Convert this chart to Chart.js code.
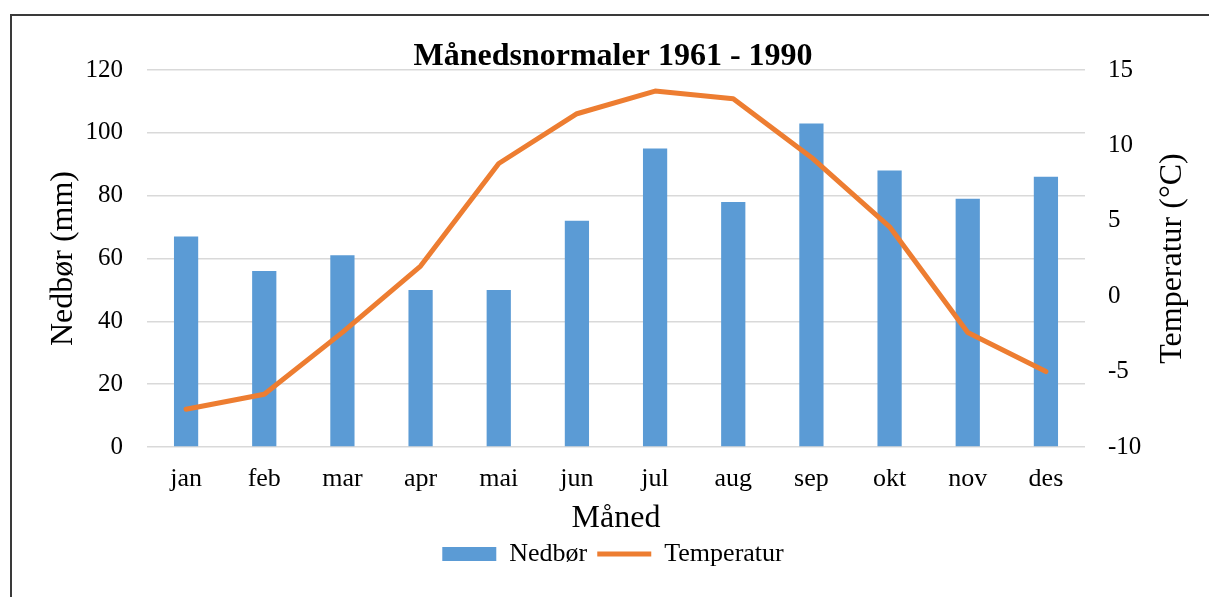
<!DOCTYPE html>
<html>
<head>
<meta charset="utf-8">
<script src="https://cdn.jsdelivr.net/npm/chart.js@4/dist/chart.umd.min.js"></script>
<style>
  body { margin: 0; background: #fff; }
  #frame {
    position: absolute; left: 10px; top: 14px;
    width: 1300px; height: 700px;
    border: 2px solid #3a3a3a;
  }
  #wrap { position: absolute; left: 0; top: 0; width: 1209px; height: 597px; }
</style>
</head>
<body>
<div id="frame"></div>
<div id="wrap"><canvas id="chart" width="1209" height="597"></canvas></div>
<script>
// monthly normals 1961-1990
const months = ["jan", "feb", "mar", "apr", "mai", "jun", "jul", "aug", "sep", "okt", "nov", "des"];
const nedbor = [67, 56, 61, 50, 50, 72, 95, 78, 103, 88, 79, 86];
const temperatur = [-7.5, -6.5, -2.4, 2.0, 8.8, 12.1, 13.6, 13.1, 9.2, 4.6, -2.4, -5.0];

const serif = "'Liberation Serif', 'Times New Roman', serif";
const rightTitle = "Temperatur (°C)";

// right axis title, turned the same way as the left one
const rightTitlePlugin = {
  id: "rightTitle",
  afterDraw(chart) {
    const s = chart.scales.y1;
    const area = chart.chartArea;
    const c = chart.ctx;
    c.save();
    c.translate(s.left + 88, (area.top + area.bottom) / 2);
    c.rotate(-Math.PI / 2);
    c.font = "32px " + serif;
    c.fillStyle = "#000";
    c.textAlign = "center";
    c.textBaseline = "middle";
    c.fillText(rightTitle, 0, 0);
    c.restore();
  },
};

const ctx = document.getElementById("chart");
new Chart(ctx, {
  type: "bar",
  plugins: [rightTitlePlugin],
  data: {
    labels: months,
    datasets: [
      {
        label: "Nedbør",
        data: nedbor,
        backgroundColor: "#5b9bd5",
        borderWidth: 0,
        categoryPercentage: 1,
        barPercentage: 0.31,
        yAxisID: "y",
        order: 2,
      },
      {
        type: "line",
        label: "Temperatur",
        data: temperatur,
        borderColor: "#ed7d31",
        backgroundColor: "#ed7d31",
        borderWidth: 5,
        borderCapStyle: "round",
        borderJoinStyle: "round",
        pointRadius: 0,
        tension: 0,
        yAxisID: "y1",
        order: 1,
      },
    ],
  },
  options: {
    responsive: false,
    animation: false,
    layout: { padding: { left: 17, right: 0, top: 0, bottom: 20 } },
    plugins: {
      tooltip: { enabled: false },
      title: {
        display: true,
        text: "Månedsnormaler 1961 - 1990",
        color: "#000",
        font: { family: serif, size: 32, weight: "bold", lineHeight: 1 },
        padding: { top: 41, bottom: -3 },
      },
      legend: {
        position: "bottom",
        labels: {
          color: "#000",
          font: { family: serif, size: 26 },
          usePointStyle: true,
          pointStyleWidth: 54,
          boxHeight: 14,
          padding: 10,
          sort: (a, b) => a.datasetIndex - b.datasetIndex,
          generateLabels: (chart) => {
            const items = Chart.defaults.plugins.legend.labels.generateLabels(chart);
            items.forEach((it) => {
              it.pointStyle = it.datasetIndex === 0 ? "rect" : "line";
            });
            return items;
          },
        },
      },
    },
    scales: {
      x: {
        grid: { display: false },
        border: { display: false },
        ticks: { color: "#000", font: { family: serif, size: 26 }, padding: 9 },
        title: {
          display: true,
          text: "Måned",
          color: "#000",
          font: { family: serif, size: 32 },
          padding: { top: 0, bottom: -7 },
        },
        afterFit: (scale) => { scale.height = 84; },
      },
      y: {
        position: "left",
        min: 0,
        max: 120,
        ticks: { stepSize: 20, color: "#000", font: { family: serif, size: 25 }, padding: 24 },
        grid: { color: "#d9d9d9", lineWidth: 1.5, drawTicks: false },
        border: { display: false },
        title: {
          display: true,
          text: "Nedbør (mm)",
          color: "#000",
          font: { family: serif, size: 32 },
          padding: { top: 27, bottom: 0 },
        },
        afterFit: (scale) => { scale.width = 130; },
      },
      y1: {
        position: "right",
        min: -10,
        max: 15,
        ticks: { stepSize: 5, color: "#000", font: { family: serif, size: 25 }, padding: 23 },
        grid: { display: false, drawTicks: false },
        border: { display: false },
        afterFit: (scale) => { scale.width = 124; },
      },
    },
  },
});
</script>
</body>
</html>
